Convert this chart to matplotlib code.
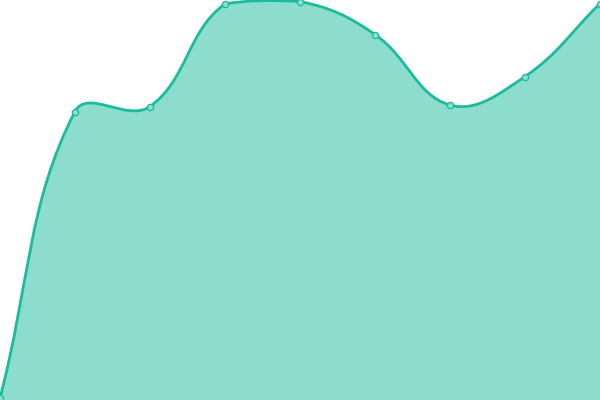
import numpy as np
import matplotlib.pyplot as plt
from matplotlib.path import Path
from matplotlib.patches import PathPatch

# Values (9 evenly spaced points)
x_vals = [0, 1, 2, 3, 4, 5, 6, 7, 8]
y_vals = [2, 288.5, 293.5, 396, 398.5, 365.5, 295, 323.5, 396.5]

line_color = '#1abc9c'
tension = 0.4
W, H = 600, 400
y_min, y_max = 0, 400

fig = plt.figure(figsize=(6, 4), dpi=100)
ax = fig.add_axes([0, 0, 1, 1])
ax.set_xlim(0, W)
ax.set_ylim(y_min, y_max)
ax.axis('off')

# map categories to pixel-like coordinates so the spline is built in screen space
step = W / (len(x_vals) - 1)
px = np.array(x_vals, dtype=float) * step
py = np.array(y_vals, dtype=float)
pts = np.column_stack([px, py])
n = len(pts)

# tension-based spline control points (Chart.js style), clamped to the area
cp_prev = pts.copy()
cp_next = pts.copy()
for i in range(n):
    prev = pts[i - 1] if i > 0 else pts[i]
    cur = pts[i]
    nxt = pts[i + 1] if i < n - 1 else pts[i]
    d01 = np.hypot(*(cur - prev))
    d12 = np.hypot(*(nxt - cur))
    tot = d01 + d12
    s01 = d01 / tot if tot else 0
    s12 = d12 / tot if tot else 0
    fa = tension * s01
    fb = tension * s12
    cp_prev[i] = cur - fa * (nxt - prev)
    cp_next[i] = cur + fb * (nxt - prev)
cp_prev[:, 0] = np.clip(cp_prev[:, 0], 0, W)
cp_next[:, 0] = np.clip(cp_next[:, 0], 0, W)
cp_prev[:, 1] = np.clip(cp_prev[:, 1], y_min, y_max)
cp_next[:, 1] = np.clip(cp_next[:, 1], y_min, y_max)

verts = [tuple(pts[0])]
codes = [Path.MOVETO]
for i in range(n - 1):
    verts += [tuple(cp_next[i]), tuple(cp_prev[i + 1]), tuple(pts[i + 1])]
    codes += [Path.CURVE4] * 3

# filled area down to the baseline
fill_verts = verts + [(pts[-1][0], y_min), (pts[0][0], y_min), verts[0]]
fill_codes = codes + [Path.LINETO, Path.LINETO, Path.CLOSEPOLY]
ax.add_patch(PathPatch(Path(fill_verts, fill_codes), facecolor=line_color,
                       alpha=0.5, edgecolor='none', zorder=1))
ax.add_patch(PathPatch(Path(verts, codes), facecolor='none', edgecolor=line_color,
                       linewidth=2.0, zorder=2, capstyle='round', joinstyle='round'))

ax.plot(px, py, linestyle='', marker='o', markersize=4.5,
        markerfacecolor='#8cddcd', markeredgecolor=line_color,
        markeredgewidth=0.9, zorder=3, clip_on=False)

fig.savefig('out.png', dpi=100)
